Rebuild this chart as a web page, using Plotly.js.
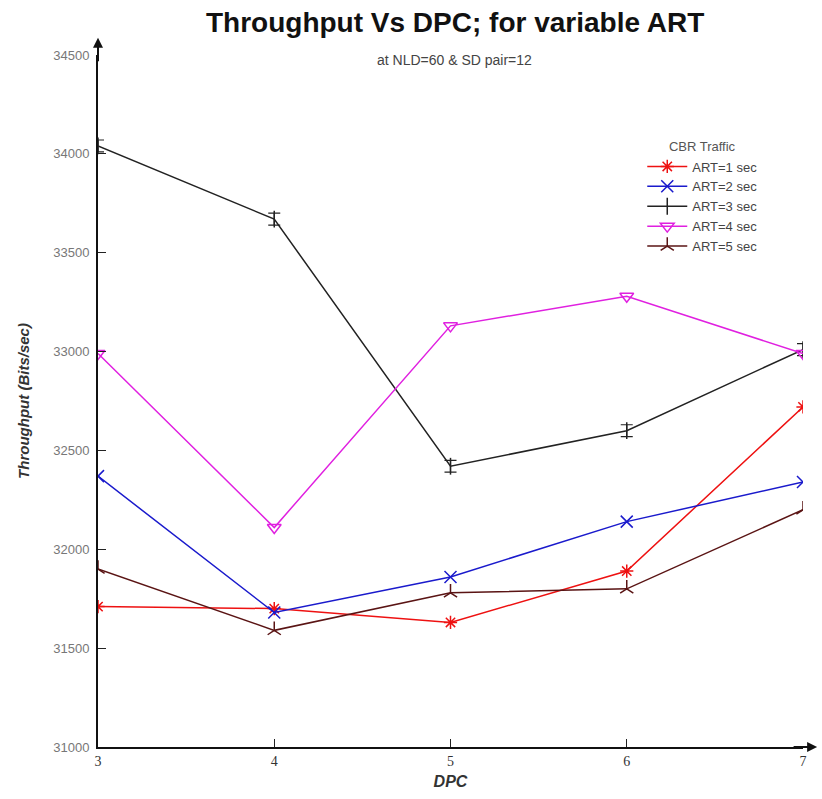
<!DOCTYPE html>
<html><head><meta charset="utf-8">
<script src="https://cdn.plot.ly/plotly-3.0.1.min.js"></script>
<style>body{margin:0;background:#fff}#chart{width:822px;height:799px}</style>
</head><body><div id="chart"></div>
<script>
const dpc = [3, 4, 5, 6, 7];
const art1 = [31710, 31700, 31630, 31890, 32720];
const art2 = [32370, 31680, 31860, 32140, 32340];
const art3 = [34040, 33670, 32420, 32600, 33010];
const art4 = [32990, 32110, 33130, 33280, 32990];
const art5 = [31900, 31590, 31780, 31800, 32200];
const seriesNames = ['ART=1 sec', 'ART=2 sec', 'ART=3 sec', 'ART=4 sec', 'ART=5 sec'];
const yTicks = [31000, 31500, 32000, 32500, 33000, 33500, 34000, 34500];
const xTicks = [3, 4, 5, 6, 7];

const styles = [
  {color: '#ee1111', symbol: 'asterisk-open', size: 11},
  {color: '#1a1acc', symbol: 'x-thin-open', size: 12},
  {color: '#222222', symbol: 'line-ns-open', size: 12},
  {color: '#e020e0', symbol: 'triangle-down-open', size: 12},
  {color: '#5a1414', symbol: 'y-up-open', size: 11}
];
const data = [art1, art2, art3, art4, art5];
const traces = data.map((ys, i) => {
  const t = {
    x: dpc, y: ys, name: seriesNames[i], type: 'scatter', mode: 'lines+markers',
    line: {color: styles[i].color, width: 1.5},
    marker: {symbol: styles[i].symbol, size: styles[i].size, color: styles[i].color,
             line: {color: styles[i].color, width: 1.5}}
  };
  if (i === 2) {
    t.error_y = {type: 'constant', value: 30, width: 6, thickness: 1.2, color: styles[i].color};
  }
  return t;
});

const layout = {
  width: 822, height: 799,
  margin: {l: 98, r: 19, t: 55, b: 52},
  paper_bgcolor: '#fff', plot_bgcolor: '#fff',
  showlegend: true,
  legend: {
    x: 0.772, y: 0.885, xanchor: 'left', yanchor: 'top',
    title: {text: 'CBR Traffic', font: {family: 'Liberation Sans, Arial', size: 13, color: '#555'}, side: 'top center'},
    font: {family: 'Liberation Sans, Arial', size: 13, color: '#444'},
    bgcolor: 'rgba(0,0,0,0)', tracegroupgap: 0, itemwidth: 40
  },
  xaxis: {
    range: [3, 7], tickvals: xTicks, ticktext: xTicks.map(String),
    ticks: 'inside', ticklen: 8, tickcolor: '#222', tickwidth: 1,
    showline: true, linecolor: '#111', linewidth: 2, showgrid: false, zeroline: false,
    tickfont: {family: 'Liberation Serif, serif', size: 14, color: '#333'},
    title: {text: '<i><b>DPC</b></i>', font: {family: 'Liberation Sans, Arial', size: 16, color: '#333'}, standoff: 8}
  },
  yaxis: {
    range: [31000, 34500], tickvals: yTicks, ticktext: yTicks.map(String),
    ticks: 'inside', ticklen: 8, tickcolor: '#222', tickwidth: 1,
    showline: true, linecolor: '#111', linewidth: 2, showgrid: false, zeroline: false,
    ticklabelstandoff: 4,
    tickfont: {family: 'Liberation Sans, Arial', size: 13, color: '#777'},
    title: {text: '<i><b>Throughput (Bits/sec)</b></i>', font: {family: 'Liberation Sans, Arial', size: 15, color: '#333'}, standoff: 20}
  },
  annotations: [
    {text: '<b>Throughput Vs DPC; for variable ART</b>', xref: 'paper', yref: 'paper',
     x: 0.506, y: 1.047, xanchor: 'center', yanchor: 'middle', showarrow: false,
     font: {family: 'Liberation Sans, Arial', size: 28, color: '#111'}},
    {text: 'at NLD=60 &amp; SD pair=12', xref: 'paper', yref: 'paper',
     x: 0.506, y: 0.993, xanchor: 'center', yanchor: 'middle', showarrow: false,
     font: {family: 'Liberation Sans, Arial', size: 14, color: '#444'}},
    {text: '', xref: 'paper', yref: 'paper', x: 0, y: 1.025, ax: 0, ay: 25,
     showarrow: true, arrowhead: 2, arrowsize: 1, arrowwidth: 2, arrowcolor: '#111'},
    {text: '', xref: 'paper', yref: 'paper', x: 1.02, y: 0, ax: -25, ay: 0,
     showarrow: true, arrowhead: 2, arrowsize: 1, arrowwidth: 2, arrowcolor: '#111'}
  ]
};
Plotly.newPlot('chart', traces, layout, {displayModeBar: false});
</script></body></html>
